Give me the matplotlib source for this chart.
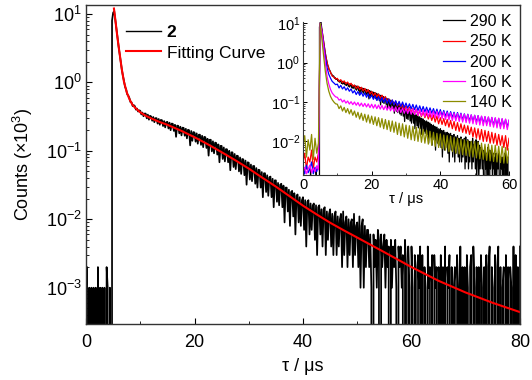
import matplotlib
matplotlib.use('Agg')
import matplotlib.pyplot as plt
import numpy as np
from matplotlib.ticker import LogLocator, NullFormatter

plt.rcParams['font.family'] = 'Liberation Sans'
plt.rcParams['mathtext.fontset'] = 'custom'
plt.rcParams['mathtext.rm'] = 'Liberation Sans'
plt.rcParams['mathtext.it'] = 'Liberation Sans:italic'
plt.rcParams['mathtext.bf'] = 'Liberation Sans:bold'

# main decay of compound 2, raw counts per 0.2 us channel (0 .. 80 us)
counts_pre = [1, 2, 0, 1, 0, 1, 0, 1, 0, 1, 0, 2, 0, 1, 0, 1, 0, 1, 0, 2, 1, 0, 1,
              0, 8000, 10400, 11000, 8300, 6200, 4600]
counts_fast = [3400, 2600, 2000, 1550, 1250,
               1050, 860, 790, 670, 640,
               590, 515, 510, 450, 465,
               450, 400, 415, 375, 390,
               385, 340, 362, 320, 350,
               350, 298, 338, 285, 325,
               318, 275, 312, 262, 300,
               300, 250, 292, 240, 283,
               280, 230, 272, 220, 262]
counts_mid = [265, 212, 258, 200, 250,
              248, 195, 240, 160, 233,
              232, 180, 225, 168, 218,
              216, 166, 210, 152, 203,
              200, 120, 195, 140, 188,
              185, 136, 180, 127, 172,
              172, 122, 166, 113, 160,
              158, 110, 150, 85, 145,
              145, 98, 138, 92, 132,
              130, 88, 124, 68, 118,
              118, 76, 112, 70, 106,
              105, 68, 100, 52, 95,
              95, 58, 90, 54, 85,
              84, 50, 80, 46, 76,
              75, 44, 72, 32, 68,
              67, 38, 63, 36, 60,
              60, 33, 56, 29, 53,
              52, 29, 49, 21, 47,
              47, 25, 44, 22, 41,
              42, 21, 39, 15, 37,
              37, 18, 34, 16, 32,
              33, 15, 31, 9, 29,
              29, 13, 27, 8, 25,
              26, 11, 24, 6, 22,
              23, 9, 21, 8, 19]
counts_tail = [21, 7, 19, 4, 18,
               19, 6, 17, 7, 16,
               17, 5, 16, 3, 15,
               16, 6, 14, 4, 14,
               15, 3, 13, 5, 12,
               14, 4, 12, 3, 11,
               13, 3, 11, 4, 10,
               12, 2, 13, 3, 9,
               11, 2, 10, 3, 9,
               10, 2, 12, 3, 8,
               9, 2, 11, 1, 8,
               10, 1, 8, 2, 7,
               7, 2, 6, 1, 0,
               6, 2, 5, 1, 7,
               5, 0, 6, 2, 4,
               6, 1, 5, 2, 4,
               0, 5, 1, 4, 2,
               5, 1, 0, 4, 2,
               4, 1, 3, 0, 5,
               2, 0, 4, 1, 0,
               4, 1, 0, 3, 2,
               0, 3, 1, 4, 0,
               3, 0, 2, 1, 0,
               4, 1, 2, 0, 3,
               0, 3, 1, 2, 0,
               2, 0, 3, 0, 2,
               0, 4, 0, 2, 1,
               3, 0, 2, 0, 1,
               2, 0, 3, 1, 0,
               4, 0, 2, 0, 2,
               0, 3, 1, 0, 2,
               3, 0, 4, 1, 0,
               2, 0, 2, 0, 3,
               1, 0, 2, 0, 3,
               0, 2, 4, 0, 2,
               1, 0, 3, 0, 2,
               4, 0, 2, 0, 1,
               2, 0, 3, 0, 2,
               0, 2, 1, 0, 4,
               0, 3, 0, 2, 0,
               4]
channel = 0.2

# fitting curve (x10^3 counts)
fit_t = [5.15, 5.4, 5.7, 6.0, 6.3, 6.6, 7.0, 7.5, 8.0, 8.5, 9.0, 10, 11, 12, 13.5,
         15, 17.5, 20, 22.5, 25, 27.5, 30, 32.5, 35, 37.5, 40, 42.5, 45, 47.5, 50,
         55, 60, 65, 70, 75, 80]
fit_val = [12.0, 8.3, 5.2, 3.4, 2.3, 1.55, 1.02, 0.72, 0.57, 0.48, 0.43, 0.365, 0.325,
           0.298, 0.265, 0.24, 0.197, 0.158, 0.124, 0.0955, 0.073, 0.055, 0.0405, 0.030,
           0.0218, 0.0158, 0.0118, 0.0089, 0.0069, 0.0054, 0.0033, 0.0020, 0.00126,
           0.00085, 0.0006, 0.00044]

# inset: other temperatures, x10^-3 units per 0.5 us (0 .. 60 us)
inset_step = 0.5
k250 = [3, 5, 2, 4, 3, 6, 2, 4, 3, 5,
        10000, 6900, 3450, 1720, 1010, 700, 570, 460, 425, 385,
        400, 335, 370, 310, 345, 290, 322, 270, 300, 252,
        270, 222, 255, 205, 238, 192, 222, 178, 206, 160,
        185, 145, 172, 135, 160, 125, 150, 115, 138, 105,
        120, 92, 112, 85, 104, 78, 97, 72, 90, 66,
        80, 58, 74, 54, 69, 50, 65, 46, 60, 43,
        57, 40, 53, 37, 50, 34, 47, 31, 44, 28,
        40, 27, 38, 25, 36, 23, 34, 21, 32, 19,
        30, 18, 28, 17, 26, 16, 25, 15, 23, 13,
        22, 12, 21, 11, 20, 10, 19, 10, 18, 9,
        17, 9, 16, 8, 15, 8, 14, 7, 14, 6,
        12]
k200 = [2, 1.5, 2.5, 1.6, 2, 3, 1.5, 2.2, 1.7, 2.5,
        10000, 6450, 2980, 1420, 760, 510, 405, 335, 305, 276,
        285, 228, 265, 215, 245, 200, 230, 188, 215, 170,
        195, 155, 185, 148, 178, 140, 170, 132, 162, 125,
        150, 117, 143, 110, 137, 104, 130, 98, 124, 93,
        118, 89, 113, 85, 108, 81, 104, 77, 100, 73,
        94, 70, 90, 67, 87, 64, 84, 61, 80, 58,
        77, 56, 74, 54, 71, 52, 68, 49, 66, 47,
        64, 45, 61, 43, 59, 41, 57, 40, 55, 38,
        54, 37, 52, 35, 50, 34, 49, 33, 47, 32,
        46, 31, 45, 30, 43, 29, 42, 28, 41, 27,
        40, 26, 39, 25, 38, 24, 37, 24, 36, 23,
        34]
k160 = [1.8, 2.2, 1.5, 2, 2.5, 1.6, 2.1, 1.7, 2.4, 1.9,
        10000, 6000, 2500, 1000, 450, 290, 210, 170, 150, 135,
        132, 112, 119, 100, 112, 94, 106, 89, 102, 86,
        100, 83, 97, 79, 94, 77, 92, 75, 90, 72,
        88, 70, 86, 68, 84, 66, 82, 64, 80, 62,
        78, 60, 76, 58, 75, 56, 73, 54, 71, 52,
        70, 51, 68, 49, 67, 48, 65, 46, 64, 45,
        63, 43, 62, 42, 60, 41, 59, 40, 58, 39,
        57, 38, 56, 36, 54, 35, 53, 34, 52, 33,
        51, 32, 50, 31, 49, 30, 48, 29, 47, 28,
        46, 27, 45, 26, 44, 25, 43, 25, 42, 24,
        41, 23, 40, 22, 39, 21, 38, 21, 37, 20,
        35]
k140 = [8, 14, 4, 11, 6, 15, 3.5, 12, 5, 9,
        10000, 4000, 1500, 600, 300, 190, 140, 115, 100, 90,
        88, 68, 80, 59, 73, 54, 68, 50, 64, 46,
        59, 41, 55, 37, 52, 34, 49, 31, 47, 29,
        44, 27, 42, 25, 40, 23, 38, 21, 36, 20,
        34, 18, 33, 17, 31, 15, 29, 14, 28, 13,
        26, 12, 25, 11, 24, 10.5, 23, 10, 22, 9.5,
        20, 9, 19, 8.5, 18, 8, 17, 7.5, 16, 7,
        15.5, 6.5, 14.5, 6, 14, 5.5, 13.5, 5.5, 12.5, 5,
        12, 4.8, 11.5, 4.6, 11, 4.4, 10.5, 4.2, 10, 4,
        10, 3.8, 9.5, 3.6, 9, 3.5, 8.5, 3.3, 8.5, 3.2,
        8, 3.1, 8, 3, 7.5, 2.9, 7.5, 2.8, 7, 2.8,
        6.5]
inset_labels = ['290 K', '250 K', '200 K', '160 K', '140 K']
inset_colors = ['black', 'red', 'blue', 'magenta', '#8c8c00']


def main():
    counts = np.array(counts_pre + counts_fast + counts_mid + counts_tail, dtype=float)
    t = np.arange(len(counts)) * channel

    fig = plt.figure(figsize=(5.32, 3.8), dpi=100)
    ax = fig.add_axes([86/532, 56/380, 434/532, 319/380])
    ax.plot(t, counts/1000, color='black', lw=1.25, label='2')
    ax.plot(fit_t, fit_val, color='red', lw=1.5, label='Fitting Curve')
    ax.set_yscale('log')
    ax.set_xlim(0, 80)
    ax.set_ylim(2.95e-4, 13.5)
    ax.set_xticks([0, 20, 40, 60, 80])
    ax.set_xticks([10, 30, 50, 70], minor=True)
    ax.yaxis.set_major_locator(LogLocator(base=10, numticks=10))
    ax.yaxis.set_minor_locator(LogLocator(base=10, subs=np.arange(2, 10), numticks=10))
    ax.yaxis.set_minor_formatter(NullFormatter())
    ax.tick_params(which='both', direction='in', top=False, right=False)
    ax.tick_params(which='major', length=4, width=0.8, labelsize=13)
    ax.tick_params(axis='x', which='major', pad=7)
    ax.tick_params(axis='y', which='major', pad=3)
    ax.tick_params(which='minor', length=2.2, width=0.6)
    for s in ax.spines.values():
        s.set_linewidth(1.0)
        s.set_color('#333333')
    ax.set_xlabel('τ / μs', fontsize=13, labelpad=5)
    ax.set_ylabel('Counts (×10$^3$)', fontsize=13, labelpad=8)

    leg = ax.legend(loc='upper left', bbox_to_anchor=(126/532, (380-25)/380),
                    bbox_transform=fig.transFigure, frameon=False, fontsize=12.5,
                    handlelength=2.0, handletextpad=0.35, labelspacing=0.3,
                    borderpad=0, borderaxespad=0)
    leg.get_texts()[0].set_fontweight('bold')
    leg.get_lines()[0].set_linewidth(1.0)

    # inset with temperature series
    axin = fig.add_axes([303/532, 205/380, 206/532, 153/380])
    t_in = np.arange(len(k250)) * inset_step
    keep = t <= 60
    axin.plot(t[keep], counts[keep]/1000, color=inset_colors[0], lw=0.9, label=inset_labels[0])
    for vals, lab, col in zip([k250, k200, k160, k140], inset_labels[1:], inset_colors[1:]):
        axin.plot(t_in, np.array(vals)/1000, color=col, lw=0.9, label=lab)
    axin.set_yscale('log')
    axin.set_xlim(0, 60)
    axin.set_ylim(1.4e-3, 10.8)
    axin.set_xticks([0, 20, 40, 60])
    axin.set_xticks([10, 30, 50], minor=True)
    axin.yaxis.set_major_locator(LogLocator(base=10, numticks=10))
    axin.yaxis.set_minor_locator(LogLocator(base=10, subs=np.arange(2, 10), numticks=10))
    axin.yaxis.set_minor_formatter(NullFormatter())
    axin.tick_params(which='both', direction='in', top=False, right=False)
    axin.tick_params(which='major', length=3, width=0.7, labelsize=10.5, pad=2)
    axin.tick_params(which='minor', length=1.6, width=0.5)
    axin.spines['top'].set_visible(False)
    axin.spines['right'].set_visible(False)
    for s in ['left', 'bottom']:
        axin.spines[s].set_linewidth(0.8)
        axin.spines[s].set_color('#333333')
    axin.set_xlabel('τ / μs', fontsize=10.5, labelpad=0)
    axin.legend(loc='upper right', bbox_to_anchor=(512/532, (380-14)/380),
                bbox_transform=fig.transFigure, frameon=False, fontsize=11.5,
                handlelength=1.4, handletextpad=0.3, labelspacing=0.33,
                borderpad=0, borderaxespad=0)

    fig.savefig('out.png', dpi=100)


if __name__ == "__main__":
    main()
